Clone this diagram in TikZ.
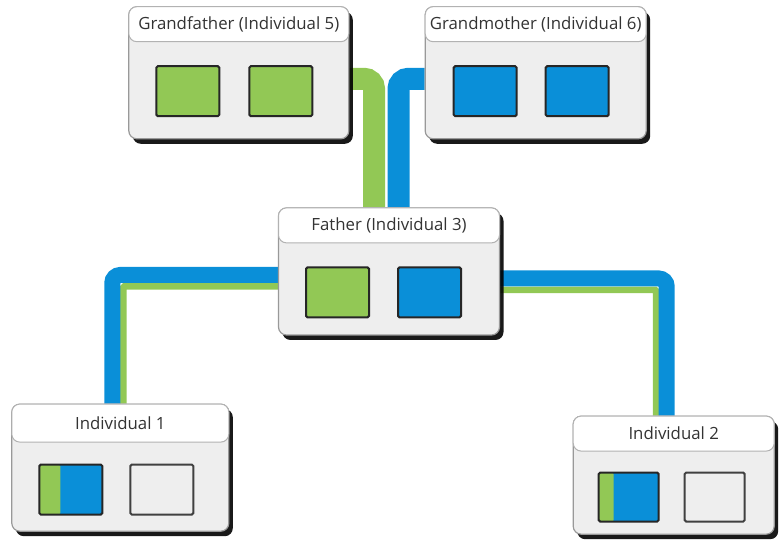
\documentclass[tikz,border=0pt]{standalone}
\usepackage{fontspec}
\setmainfont{Open Sans}
\definecolor{geneGreen}{HTML}{92C855}
\definecolor{geneBlue}{HTML}{0A8FD8}
\definecolor{boxGray}{HTML}{EEEEEE}
\definecolor{textGray}{HTML}{333333}
\usetikzlibrary{positioning, shadows, backgrounds}

\begin{document}
\begin{tikzpicture}[
    x=1pt, y=1pt,
    % --- Estilos ---
    person/.style={draw=gray!80, fill=boxGray, rounded corners=8pt, line width=1.2pt,
                   drop shadow={shadow xshift=4pt, shadow yshift=-5pt, fill=black, opacity=0.9}},
    header/.style={draw=gray!60, fill=white, rounded corners=8pt, line width=1pt,
                   minimum height=35pt, inner sep=0pt, text=textGray,
                   font=\fontsize{16.8}{19}\selectfont},
    allele/.style={draw=black!85, line width=2pt, rounded corners=1.5pt,
                   minimum width=63pt, minimum height=50pt, inner sep=0pt},
    alleleA/.style={allele, fill=geneGreen},
    alleleB/.style={allele, fill=geneBlue},
    alleleNone/.style={allele, fill=boxGray, draw=black!75},
    mixed/.style={allele, fill=geneBlue, path picture={
                   \fill[geneGreen] (path picture bounding box.south west)
                   rectangle ([xshift=#1]path picture bounding box.north west);}},
    bandWide/.style={line width=22pt, rounded corners=10pt},
    bandBlue/.style={geneBlue, line width=16pt, rounded corners=8pt},
    bandGreen/.style={geneGreen, line width=6.5pt, rounded corners=1pt}
]
\useasboundingbox (0,0) rectangle (782,540);

% ====== Padre ======
\node[person, minimum width=221pt, minimum height=127pt] (Father) at (389,268.5) {};
\node[header, minimum width=221pt, below=0pt of Father.north] (FatherH) {Father (Individual 3)};
\node[alleleA, below right=23pt and 27pt of FatherH.south west] (Father1) {};
\node[alleleB, right=27pt of Father1] (Father2) {};

% ====== Abuelos ======
\node[person, minimum width=220pt, minimum height=132pt] (GF) [above left=68pt and -71.5pt of Father] {};
\node[header, minimum width=220pt, below=0pt of GF.north] (GFH) {Grandfather (Individual 5)};
\node[alleleA, below right=23pt and 27pt of GFH.south west] (GF1) {};
\node[alleleA, right=28pt of GF1] (GF2) {};

\node[person, minimum width=221pt, minimum height=132pt] (GM) [above right=68pt and -75.5pt of Father] {};
\node[header, minimum width=221pt, below=0pt of GM.north] (GMH) {Grandmother (Individual 6)};
\node[alleleB, below right=23pt and 28pt of GMH.south west] (GM1) {};
\node[alleleB, right=27pt of GM1] (GM2) {};

% ====== Hijos ======
\node[person, minimum width=217pt, minimum height=127pt] (Ind1) [below left=68pt and 48.5pt of Father] {};
\node[header, minimum width=217pt, minimum height=38pt, below=0pt of Ind1.north] (Ind1H) {Individual 1};
\node[mixed=21pt, below right=21pt and 27pt of Ind1H.south west] (Ind1a) {};
\node[alleleNone, right=26pt of Ind1a] (Ind1b) {};

\node[person, minimum width=201pt, minimum height=118pt] (Ind2) [below right=80pt and 72.5pt of Father] {};
\node[header, minimum width=201pt, below=0pt of Ind2.north] (Ind2H) {Individual 2};
\node[mixed=15pt, minimum width=60pt, minimum height=49pt,
      below right=20pt and 25pt of Ind2H.south west] (Ind2a) {};
\node[alleleNone, minimum width=60pt, minimum height=49pt, right=24pt of Ind2a] (Ind2b) {};

% Conexiones (detrás de las cajas)
\begin{scope}[on background layer]
\draw[bandWide, geneGreen] ([yshift=-6pt]GF.east) -| ([xshift=-15pt]Father.north);
\draw[bandWide, geneBlue] ([yshift=-6pt]GM.west) -| ([xshift=9.5pt]Father.north);

\draw[bandGreen] ([yshift=-15pt]Father.west) -| ([xshift=3pt]Ind1.north);
\draw[bandBlue] ([yshift=-3.5pt]Father.west) -| ([xshift=-8pt]Ind1.north);

\draw[bandGreen] ([yshift=-18.5pt]Father.east) -| ([xshift=-17.5pt]Ind2.north);
\draw[bandBlue] ([yshift=-7pt]Father.east) -| ([xshift=-7pt]Ind2.north);
\end{scope}

\end{tikzpicture}
\end{document}
